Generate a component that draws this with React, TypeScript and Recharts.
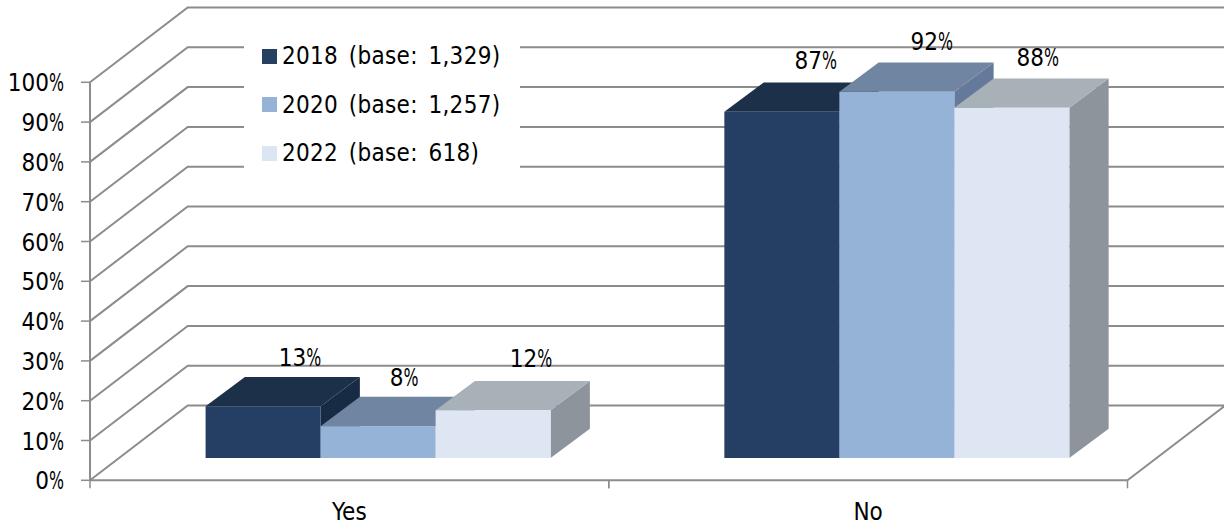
import { Bar, BarChart, CartesianGrid, LabelList, Legend, XAxis, YAxis } from "recharts"

const categories = ["Yes", "No"]
const seriesNames = ["2018 (base: 1,329)", "2020 (base: 1,257)", "2022 (base: 618)"]
const values2018 = [13, 87]
const values2020 = [8, 92]
const values2022 = [12, 88]
const percentTicks = [0, 10, 20, 30, 40, 50, 60, 70, 80, 90, 100]

const FRONT_COLORS = ["#243f63", "#95b2d7", "#dee5f3"]
const TOP_COLORS = ["#1d3049", "#7085a2", "#a8b0b8"]
const SIDE_COLORS = ["#182b44", "#65799a", "#8e949b"]
const LEGEND_COLORS = ["#254061", "#95b3d7", "#dce6f2"]

const GRID_COLOR = "#8c8c8c"
const FONT = '"DejaVu Sans Condensed", "DejaVu Sans", sans-serif'
const FONT_SIZE = 24

// fake perspective: back wall offset, where bars stand on the floor, bar depth
const WALL_DX = 97.7
const WALL_DY = 74.8
const INSET_DX = 29.3
const INSET_DY = 22.3
const DEPTH_DX = 39.3
const DEPTH_DY = 29.3

// value labels were nudged by hand, one [dx, dy] per category
const LABEL_NUDGES = [
  [[37, -49], [34, -52]],
  [[26, -49], [35, -51]],
  [[38, -52], [26, -51]],
]

const data = categories.map((name, i) => ({
  name,
  y2018: values2018[i],
  y2020: values2020[i],
  y2022: values2022[i],
}))

const seriesKeys = ["y2018", "y2020", "y2022"]

function Box3D({ x, y, width, height, seriesIndex }: any) {
  const left = x + INSET_DX
  const right = left + width
  const top = y - INSET_DY
  const bottom = top + height
  return (
    <g>
      <polygon
        points={`${right},${top} ${right + DEPTH_DX},${top - DEPTH_DY} ${right + DEPTH_DX},${bottom - DEPTH_DY} ${right},${bottom}`}
        fill={SIDE_COLORS[seriesIndex]}
      />
      <polygon
        points={`${left},${top} ${left + DEPTH_DX},${top - DEPTH_DY} ${right + DEPTH_DX},${top - DEPTH_DY} ${right},${top}`}
        fill={TOP_COLORS[seriesIndex]}
      />
      <rect x={left} y={top} width={width} height={height} fill={FRONT_COLORS[seriesIndex]} />
    </g>
  )
}

// each horizontal grid line folds back along the side wall; the floor closes on the right
function WallLine({ x1, y1, x2, y, height, index }: any) {
  const backY = y1 - WALL_DY
  const isFloor = Math.abs(y1 - (y + height)) < 1
  const d = isFloor
    ? `M${x1},${y1} L${x1 + WALL_DX},${backY} L${x2 + WALL_DX},${backY} L${x2},${y1}`
    : `M${x1},${y1} L${x1 + WALL_DX},${backY} L${x2 + WALL_DX},${backY}`
  return <path key={index} d={d} fill="none" stroke={GRID_COLOR} strokeWidth={2} />
}

// the percent sign is squeezed so it stays narrow next to the digits
function PercentText({ x, y, value, anchor }: any) {
  return (
    <text x={x} y={y} textAnchor={anchor} fontFamily={FONT} fontSize={FONT_SIZE} fill="#000">
      <tspan>{value}</tspan>
      <tspan textLength={15} lengthAdjust="spacingAndGlyphs">%</tspan>
    </text>
  )
}

function PercentTick({ x, y, payload }: any) {
  return <PercentText x={x} y={y + 9} value={payload.value} anchor="end" />
}

function CategoryTick({ x, y, width, visibleTicksCount, payload }: any) {
  const band = width / visibleTicksCount
  return (
    <g>
      <line x1={x - band / 2} y1={y} x2={x - band / 2} y2={y + 8} stroke={GRID_COLOR} strokeWidth={1.5} />
      <line x1={x + band / 2} y1={y} x2={x + band / 2} y2={y + 8} stroke={GRID_COLOR} strokeWidth={1.5} />
      <text x={x} y={y + 40} textAnchor="middle" fontFamily={FONT} fontSize={FONT_SIZE} fill="#000">
        {payload.value}
      </text>
    </g>
  )
}

function ValueLabel({ x, y, width, value, index, seriesIndex }: any) {
  const [dx, dy] = LABEL_NUDGES[seriesIndex][index]
  return <PercentText x={x + INSET_DX + width / 2 + dx} y={y - INSET_DY + dy + 9} value={value} anchor="middle" />
}

function LegendBox() {
  return (
    <div style={{ background: "#fff", width: 276, height: 160, boxSizing: "border-box", paddingLeft: 18 }}>
      {seriesNames.map((name, i) => (
        <div
          key={name}
          style={{ display: "flex", alignItems: "center", height: 48.5, fontFamily: FONT, fontSize: FONT_SIZE, color: "#000" }}
        >
          <span style={{ width: 15, height: 15, marginRight: 5, background: LEGEND_COLORS[i] }} />
          <span style={{ whiteSpace: "nowrap", wordSpacing: 3.5, letterSpacing: 0.3 }}>{name}</span>
        </div>
      ))}
    </div>
  )
}

export default function App() {
  return (
    <div style={{ position: "absolute", left: 0, top: 0, width: 1224, height: 526, background: "#fff" }}>
      <BarChart
        width={1224}
        height={526}
        data={data}
        margin={{ top: 82.3, right: 96.5, bottom: 15.7, left: 0 }}
        barCategoryGap={86.3}
        barGap={0}
      >
        <CartesianGrid vertical={false} horizontal={(props: any) => <WallLine {...props} />} />
        <XAxis
          dataKey="name"
          height={30}
          tickLine={false}
          tickSize={0}
          tickMargin={0}
          interval={0}
          axisLine={{ stroke: GRID_COLOR, strokeWidth: 2 }}
          tick={(props: any) => <CategoryTick {...props} />}
        />
        <YAxis
          width={90}
          domain={[0, 100]}
          ticks={percentTicks}
          interval={0}
          tickSize={9}
          tickMargin={17}
          tickLine={{ stroke: GRID_COLOR, strokeWidth: 1.5 }}
          axisLine={{ stroke: GRID_COLOR, strokeWidth: 2 }}
          tick={(props: any) => <PercentTick {...props} />}
        />
        <Legend
          layout="vertical"
          align="center"
          verticalAlign="middle"
          content={() => <LegendBox />}
          wrapperStyle={{ left: 244, top: 32, width: 276, height: 160, margin: 0 }}
        />
        {seriesKeys.map((key, s) => (
          <Bar
            key={key}
            dataKey={key}
            name={seriesNames[s]}
            fill={FRONT_COLORS[s]}
            isAnimationActive={false}
            shape={(props: any) => <Box3D {...props} seriesIndex={s} />}
          >
            <LabelList
              dataKey={key}
              content={(props: any) => <ValueLabel {...props} seriesIndex={s} />}
            />
          </Bar>
        ))}
      </BarChart>
    </div>
  )
}
